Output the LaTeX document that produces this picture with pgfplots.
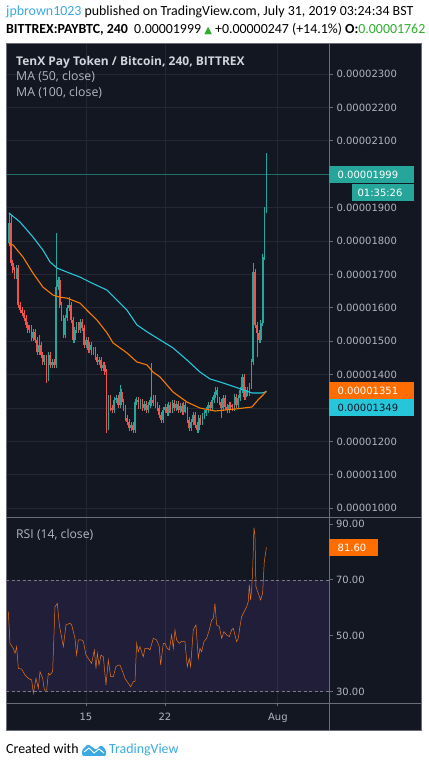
\documentclass[border=0pt]{standalone}
\usepackage{pgfplots}
\pgfplotsset{compat=1.18}
\usepackage{pgfplotstable}
\usepackage{fontspec}
\setmainfont{Carlito}
\newfontfamily\osans{Open Sans}
\newfontfamily\dejavu{DejaVu Sans}
\definecolor{bgc}{HTML}{131722}
\definecolor{gridc}{HTML}{242834}
\definecolor{framec}{HTML}{6B6E78}
\definecolor{txtc}{HTML}{B2B5BE}
\definecolor{txtl}{HTML}{D1D4DC}
\definecolor{upc}{HTML}{26A69A}
\definecolor{dnc}{HTML}{EF5350}
\definecolor{mafifty}{HTML}{F57C00}
\definecolor{maboxc}{HTML}{FF6D00}
\definecolor{mahundc}{HTML}{26C6DA}
\definecolor{rsic}{HTML}{E8751A}
\definecolor{bandc}{HTML}{7B4FD0}
\definecolor{dashc}{HTML}{787B86}
\definecolor{linkc}{HTML}{3BA9E0}
\definecolor{hgreen}{HTML}{2EAD2E}
\definecolor{pricelc}{HTML}{1F6E68}
\newcommand{\tickfont}{\dejavu\fontsize{10}{12}\selectfont}

\pgfplotstableread{
i o h l c
0 1794 1884 1785 1854
1 1854 1878 1725 1734
2 1734 1743 1704 1713
3 1713 1722 1686 1695
4 1695 1728 1686 1719
5 1719 1728 1599 1608
6 1608 1617 1584 1593
7 1593 1602 1575 1584
8 1584 1593 1560 1569
9 1569 1578 1539 1548
10 1548 1557 1525 1534
11 1534 1549 1525 1540
12 1540 1549 1501 1510
13 1510 1537 1501 1528
14 1528 1537 1495 1504
15 1504 1513 1459 1468
16 1468 1520 1459 1489
17 1489 1498 1450 1459
18 1459 1468 1429 1438
19 1438 1459 1429 1450
20 1450 1459 1375 1390
21 1390 1468 1381 1459
22 1459 1468 1420 1429
23 1429 1447 1420 1438
24 1438 1447 1420 1429
25 1429 1824 1420 1662
26 1662 1692 1653 1683
27 1683 1692 1599 1608
28 1608 1617 1560 1569
29 1569 1578 1510 1519
30 1519 1578 1510 1569
31 1569 1608 1560 1599
32 1599 1632 1590 1608
33 1608 1617 1555 1564
34 1564 1573 1495 1504
35 1504 1543 1495 1534
36 1534 1558 1525 1549
37 1549 1558 1525 1534
38 1534 1567 1525 1558
39 1558 1567 1531 1540
40 1540 1549 1480 1489
41 1489 1513 1480 1504
42 1504 1513 1465 1474
43 1474 1498 1465 1489
44 1489 1498 1459 1468
45 1468 1483 1459 1474
46 1474 1483 1444 1453
47 1453 1462 1429 1438
48 1438 1453 1429 1444
49 1444 1453 1411 1420
50 1420 1438 1411 1429
51 1429 1438 1399 1408
52 1408 1417 1225 1309
53 1309 1339 1234 1330
54 1330 1339 1291 1300
55 1300 1309 1285 1294
56 1294 1333 1285 1324
57 1324 1339 1315 1330
58 1330 1339 1300 1309
59 1309 1369 1300 1348
60 1348 1357 1309 1318
61 1318 1327 1291 1300
62 1300 1309 1261 1270
63 1270 1279 1249 1258
64 1258 1267 1231 1240
65 1240 1258 1231 1249
66 1249 1258 1225 1234
67 1234 1327 1225 1318
68 1318 1333 1309 1324
69 1324 1333 1297 1306
70 1306 1327 1297 1318
71 1318 1327 1291 1300
72 1300 1321 1291 1312
73 1312 1321 1285 1294
74 1294 1318 1285 1309
75 1309 1333 1300 1324
76 1324 1435 1306 1315
77 1315 1339 1306 1330
78 1330 1339 1300 1309
79 1309 1318 1291 1300
80 1300 1309 1270 1279
81 1279 1288 1255 1264
82 1264 1303 1255 1294
83 1294 1312 1285 1303
84 1303 1312 1276 1285
85 1285 1318 1276 1309
86 1309 1318 1285 1294
87 1294 1324 1285 1315
88 1315 1324 1291 1300
89 1300 1321 1291 1312
90 1312 1321 1285 1294
91 1294 1315 1285 1306
92 1306 1315 1279 1288
93 1288 1318 1279 1309
94 1309 1318 1285 1294
95 1294 1303 1255 1264
96 1264 1273 1231 1240
97 1240 1267 1231 1258
98 1258 1288 1249 1279
99 1279 1288 1240 1249
100 1249 1258 1225 1234
101 1234 1279 1225 1270
102 1270 1279 1249 1258
103 1258 1285 1249 1276
104 1276 1294 1267 1285
105 1285 1303 1276 1294
106 1294 1318 1285 1309
107 1309 1318 1291 1300
108 1300 1333 1291 1324
109 1324 1348 1315 1339
110 1339 1363 1330 1354
111 1354 1363 1315 1324
112 1324 1333 1309 1318
113 1318 1327 1270 1300
114 1300 1339 1291 1330
115 1330 1339 1294 1303
116 1303 1312 1285 1294
117 1294 1318 1285 1309
118 1309 1318 1294 1303
119 1303 1312 1291 1300
120 1300 1342 1291 1333
121 1333 1342 1300 1309
122 1309 1339 1300 1330
123 1330 1363 1321 1354
124 1354 1402 1345 1393
125 1393 1402 1324 1333
126 1333 1363 1324 1354
127 1354 1363 1336 1345
128 1345 1375 1336 1366
129 1366 1447 1357 1438
130 1438 1734 1429 1707
131 1707 1716 1540 1549
132 1549 1558 1453 1525
133 1525 1534 1495 1504
134 1504 1564 1495 1555
135 1555 1761 1546 1752
136 1752 1902 1743 1893
137 1893 2063 1884 1999
}\candles

\pgfplotstableread{
i v
0 1884
5.9 1857
12.8 1812
18.1 1773
21.9 1737
25.6 1719
30.9 1707
37.8 1692
43.1 1677
52.2 1653
57.5 1623
62.8 1593
68.1 1549
73.5 1528
80.4 1504
87.3 1480
94.7 1444
101.6 1408
107.0 1387
112.3 1378
120.3 1363
129.3 1345
134.6 1345
137 1349
}\mahundred

\pgfplotstableread{
i v
0 1794
2.2 1788
7.5 1752
12.8 1704
18.1 1662
23.5 1638
27 1632
30.9 1629
37.8 1614
43.1 1584
46.9 1563
52.2 1525
55.4 1495
62.8 1465
68.1 1438
73.5 1429
76.6 1408
80.4 1393
87.3 1348
94.7 1318
101.6 1300
109.7 1291
120.3 1297
129.3 1303
132.5 1324
135.2 1339
137 1351
}\mafiftyt

\pgfplotstableread{
i v
-0.30 58.6
0.58 47.3
2.36 45.5
3.24 43.7
4.13 46.1
5.02 38.3
6.79 38.1
8.56 36.0
10.34 34.8
12.11 34.2
13.00 29.4
14.41 34.8
15.66 31.2
16.54 37.2
17.96 34.8
18.85 30.6
20.09 30.6
20.97 36.6
21.86 36.0
23.28 37.2
24.52 60.4
25.76 61.6
26.83 53.9
28.95 46.1
30.37 53.9
32.50 54.5
33.39 53.9
35.16 49.1
36.04 43.1
36.93 48.5
38.70 48.5
39.59 48.1
41.01 43.1
42.25 41.9
44.02 40.1
45.44 44.9
46.33 38.3
47.04 43.7
47.92 39.5
48.99 43.1
50.23 42.5
51.65 32.4
52.89 41.3
54.13 35.4
55.55 35.4
56.97 39.0
58.21 39.5
59.09 39.5
60.51 37.2
61.75 34.8
63.53 33.0
64.77 31.8
66.19 33.6
67.07 33.6
67.96 47.3
68.84 44.3
69.73 46.1
71.50 42.5
72.39 45.5
74.16 45.5
75.05 44.9
76.82 49.1
78.60 48.5
80.01 46.1
80.72 39.5
82.14 47.3
83.03 47.3
84.27 45.5
85.33 44.9
86.57 50.3
87.46 45.5
88.35 52.1
89.23 48.5
90.65 47.3
91.89 48.1
93.67 47.9
94.91 39.0
95.97 41.9
96.68 39.0
98.10 52.1
99.52 53.9
100.76 41.9
101.65 45.5
102.53 44.3
103.77 47.9
105.19 49.1
106.61 52.1
107.85 55.6
108.74 56.2
109.62 61.6
110.51 53.9
111.93 53.3
113.17 49.1
114.41 51.5
115.83 50.3
117.25 49.7
118.49 52.1
119.38 52.7
120.27 50.3
121.15 47.9
122.04 49.1
122.92 53.3
123.81 56.8
125.58 59.2
126.47 60.4
127.35 62.2
127.88 68.2
128.59 62.8
129.12 66.4
129.66 72.9
130.37 88.7
130.90 86.1
131.43 67.6
132.67 65.2
133.91 62.8
134.98 65.2
135.87 76.5
137.00 81.6
}\rsit

\begin{document}
\begin{tikzpicture}[x=1pt,y=1pt]
\useasboundingbox (0,0) rectangle (428,767);
\fill[white] (0,0) rectangle (428,767);
\fill[bgc] (6.5,37) rectangle (421,724);

% main price pane
\begin{axis}[
  at={(6.5pt,250pt)}, anchor=south west, scale only axis,
  width=322.5pt, height=474pt,
  xmin=-1.28, xmax=170.3, ymin=973.7, ymax=2392.9,
  axis background/.style={fill=bgc},
  axis line style={draw=framec, line width=0.8pt},
  xtick={41,83,143.1}, xticklabels={}, xmajorgrids,
  xtick style={draw=none},
  ytick={1000,1100,1200,1300,1400,1500,1600,1700,1800,1900,2000,2100,2200,2300},
  yticklabels={0.00001000,0.00001100,0.00001200,0.00001300,0.00001400,0.00001500,0.00001600,0.00001700,0.00001800,0.00001900,0.00002000,0.00002100,0.00002200,0.00002300},
  ymajorgrids, grid style={gridc, line width=0.8pt},
  ytick pos=right, yticklabel pos=right, tick align=outside,
  major tick length=4pt,
  ytick style={draw=framec, line width=0.8pt},
  yticklabel style={font=\tickfont, text=txtc},
  clip=false,
]
\addplot[pricelc, line width=0.7pt, forget plot] coordinates {(-1.28,1999) (170.3,1999)};
% wicks
\addplot[upc, line width=0.55pt, forget plot, -,
  restrict expr to domain={\thisrow{c}-\thisrow{o}}{0:100000},
  quiver={u=0, v=\thisrow{h}-\thisrow{l}}]
  table[x=i, y=l] {\candles};
\addplot[dnc, line width=0.55pt, forget plot, -,
  restrict expr to domain={\thisrow{c}-\thisrow{o}}{-100000:-0.001},
  quiver={u=0, v=\thisrow{h}-\thisrow{l}}]
  table[x=i, y=l] {\candles};
% bodies
\addplot[upc, line width=1.7pt, forget plot, -,
  restrict expr to domain={\thisrow{c}-\thisrow{o}}{0:100000},
  quiver={u=0, v=\thisrow{c}-\thisrow{o}}]
  table[x=i, y=o] {\candles};
\addplot[dnc, line width=1.7pt, forget plot, -,
  restrict expr to domain={\thisrow{c}-\thisrow{o}}{-100000:-0.001},
  quiver={u=0, v=\thisrow{c}-\thisrow{o}}]
  table[x=i, y=o] {\candles};
\addplot[mahundc, line width=1.1pt, no marks] table[x=i, y=v] {\mahundred};
\addplot[mafifty, line width=1.1pt, no marks] table[x=i, y=v] {\mafiftyt};
\end{axis}

% RSI pane
\begin{axis}[
  at={(6.5pt,64pt)}, anchor=south west, scale only axis,
  width=322.5pt, height=186pt,
  xmin=-1.28, xmax=170.3, ymin=25.96, ymax=92.5,
  axis background/.style={fill=bgc},
  axis line style={draw=framec, line width=0.8pt},
  xtick={41,83,143.1}, xticklabels={15,22,Aug}, xmajorgrids,
  grid style={gridc, line width=0.8pt},
  ytick={30,50,70,90}, yticklabels={30.00,50.00,70.00,90.00},
  xtick pos=bottom, ytick pos=right, yticklabel pos=right, tick align=outside,
  major tick length=3.5pt,
  tick style={draw=framec, line width=0.8pt},
  yticklabel style={font=\tickfont, text=txtc},
  xticklabel style={font=\tickfont, text=txtc, yshift=-3pt},
  clip=false,
]
\addplot[fill=bandc, fill opacity=0.14, draw=none, forget plot] coordinates {(-1.28,30) (170.3,30) (170.3,70) (-1.28,70)} -- cycle;
\addplot[dashc, line width=0.6pt, dash pattern=on 3pt off 2.5pt, forget plot] coordinates {(-1.28,70) (170.3,70)};
\addplot[dashc, line width=0.6pt, dash pattern=on 3pt off 2.5pt, forget plot] coordinates {(-1.28,30) (170.3,30)};
\addplot[rsic, line width=0.5pt, no marks] table[x=i, y=v] {\rsit};
\end{axis}

% frame
\draw[framec, line width=0.8pt] (6.5,37) rectangle (421,724);
\draw[framec, line width=0.8pt] (329,37) -- (329,724);
\draw[framec, line width=0.8pt] (6.5,250) -- (421,250);
\draw[framec, line width=0.8pt] (6.5,64) -- (421,64);

% legends in panes
\node[anchor=base west, inner sep=0, text=txtl, font=\osans\bfseries\fontsize{12}{14}\selectfont] at (16,701) {TenX Pay Token / Bitcoin, 240, BITTREX};
\node[anchor=base west, inner sep=0, text=txtc, font=\osans\fontsize{12.3}{14}\selectfont] at (16,686) {MA (50, close)};
\node[anchor=base west, inner sep=0, text=txtc, font=\osans\fontsize{12.3}{14}\selectfont] at (16,670) {MA (100, close)};
\node[anchor=base west, inner sep=0, text=txtc, font=\osans\fontsize{12.2}{14}\selectfont] at (16,228) {RSI (14, close)};

% price scale labels
\fill[upc] (329,584) rectangle (414,601);
\node[anchor=west, inner sep=0, text=white, font=\tickfont] at (337.5,592.5) {0.00001999};
\fill[upc] (352,566) rectangle (414,583);
\node[anchor=center, inner sep=0, text=white, font=\tickfont] at (380,574.5) {01:35:26};
\fill[maboxc] (329,368) rectangle (414,385);
\node[anchor=west, inner sep=0, text=white, font=\tickfont] at (337.5,376.5) {0.00001351};
\fill[mahundc] (329,351) rectangle (414,368);
\node[anchor=west, inner sep=0, text=bgc, font=\tickfont] at (337.5,359.5) {0.00001349};
\fill[maboxc] (329,211) rectangle (378,228);
\node[anchor=west, inner sep=0, text=white, font=\tickfont] at (337.5,219.5) {81.60};

% header
\node[anchor=base west, inner sep=0, font=\fontsize{13.9}{15}\selectfont] at (6,751) {\textcolor{linkc}{jpbrown1023} published on TradingView.com, July 31, 2019 03:24:34 BST};
\node[anchor=base west, inner sep=0, font=\fontsize{13.9}{15}\selectfont] at (6,733) {\textbf{BITTREX:PAYBTC, 240}\ \ 0.00001999 {\dejavu\fontsize{10}{12}\selectfont\textcolor{hgreen}{▲}} +0.00000247 (+14.1\%) \textbf{O:}\textcolor{hgreen}{0.00001762}};

% footer
\node[anchor=base west, inner sep=0, font=\fontsize{13.9}{15}\selectfont] at (6,13) {Created with};
\fill[linkc, rounded corners=1.5pt] (82,11) -- (106,11) -- (106,17) -- (101,22) -- (96,17) -- (92,20) -- (88,23) -- (82,17) -- cycle;
\draw[white, line width=1pt] (84,15) -- (89,19) -- (94,14) -- (99,18) -- (104,14);
\node[anchor=base west, inner sep=0, text=linkc, font=\fontsize{13.9}{15}\selectfont] at (109,13) {TradingView};
\end{tikzpicture}
\end{document}
